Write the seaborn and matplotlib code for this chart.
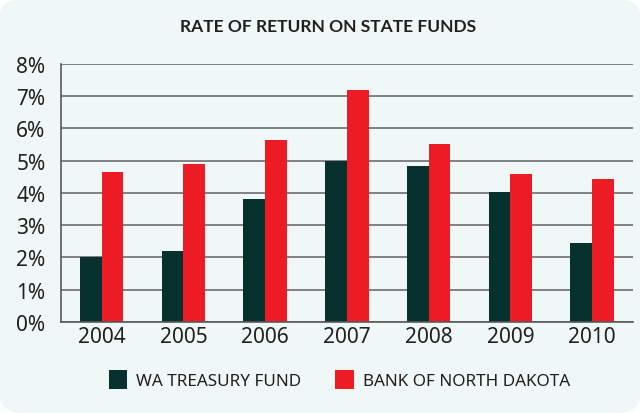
import pandas as pd
import matplotlib.pyplot as plt
import seaborn as sns
from matplotlib.patches import FancyBboxPatch
from matplotlib.ticker import FixedLocator, FuncFormatter

# Data
years = ['2004', '2005', '2006', '2007', '2008', '2009', '2010']
wa_treasury = [2.0, 2.2, 3.8, 5.0, 4.83, 4.02, 2.45]
bank_nd = [4.64, 4.89, 5.63, 7.18, 5.51, 4.58, 4.43]
series_names = ['WA TREASURY FUND', 'BANK OF NORTH DAKOTA']

df = pd.DataFrame({
    'year': years * 2,
    'rate': wa_treasury + bank_nd,
    'fund': [series_names[0]] * len(years) + [series_names[1]] * len(years),
})

bg = '#f0f8f7'
dark = '#07312f'
red = '#ed1c24'
text_col = '#231f20'

sns.set_style('white')
plt.rcParams['font.family'] = ['Noto Sans', 'DejaVu Sans']
plt.rcParams['font.weight'] = 'medium'

fig = plt.figure(figsize=(6.4, 4.14), dpi=100)
fig.patch.set_facecolor('white')
fig.patches.append(FancyBboxPatch((0.0, 0.0), 1.0, 1.0, boxstyle='round,pad=0,rounding_size=0.04',
                                  transform=fig.transFigure, facecolor=bg, edgecolor='none',
                                  zorder=-10))

ax = fig.add_axes([0.095, 0.22, 0.894, 0.623])
ax.set_facecolor(bg)

sns.barplot(data=df, x='year', y='rate', hue='fund', palette=[dark, red],
            width=0.53, gap=0, saturation=1, ax=ax, legend=True)
for p in ax.patches:
    p.set_edgecolor('none')

ax.set_ylim(0, 8)
ax.set_xlim(-0.5, len(years) - 0.5)
ax.set_yticks(range(0, 9))
ax.yaxis.set_major_formatter(FuncFormatter(lambda v, _: f'{int(v)}%'))
ax.grid(axis='y', color='#6d6e71', linewidth=1.2)
ax.set_axisbelow(True)

ax.xaxis.set_minor_locator(FixedLocator([i - 0.5 for i in range(len(years) + 1)]))
ax.tick_params(axis='x', which='major', length=0, pad=3, labelsize=15, labelcolor=text_col)
ax.tick_params(axis='x', which='minor', length=7, width=1, color='#6d6e71', direction='out')
ax.tick_params(axis='y', which='major', length=7, width=1.2, color='#6d6e71', pad=4,
               labelsize=15, labelcolor=text_col)

for side in ['top', 'right']:
    ax.spines[side].set_visible(False)
for side in ['left', 'bottom']:
    ax.spines[side].set_color('#58595b')
    ax.spines[side].set_linewidth(1.2)

ax.set_xlabel('')
ax.set_ylabel('')

handles, labels = ax.get_legend_handles_labels()
ax.legend_.remove()
fig.legend(handles, labels, loc='center', bbox_to_anchor=(0.53, 0.08), ncol=2,
           frameon=False, fontsize=12.3, handlelength=1.1, handleheight=1.3,
           handletextpad=0.5, columnspacing=2.0, labelcolor=text_col)

fig.text(0.513, 0.935, 'RATE OF RETURN ON STATE FUNDS', ha='center', va='center',
         fontsize=12.5, fontweight='bold', color=text_col,
         family=['Lato', 'DejaVu Sans'])

fig.savefig('out.png', dpi=100, facecolor=fig.get_facecolor())
